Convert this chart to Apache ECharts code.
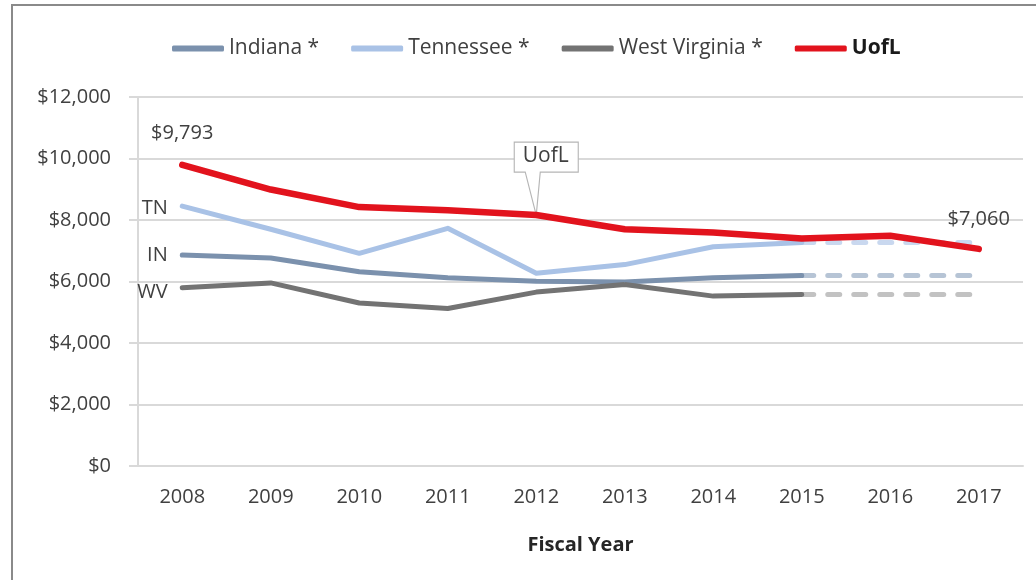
<!DOCTYPE html>
<html>
<head>
<meta charset="utf-8">
<script src="https://cdn.jsdelivr.net/npm/echarts@6/dist/echarts.min.js"></script>
<style>
  html, body { margin: 0; padding: 0; background: #fff; }
  #frame { position: absolute; left: 11px; top: 4px; width: 1040px; height: 590px;
           border-left: 2px solid #8a8a8a; border-top: 2px solid #8a8a8a; }
  #main { position: absolute; left: 0; top: 0; width: 1036px; height: 580px; }
</style>
</head>
<body>
<div id="frame"></div>
<div id="main"></div>
<script>
// 年份
const years = ["2008", "2009", "2010", "2011", "2012", "2013", "2014", "2015", "2016", "2017"];
// 各州数据 (2016/2017 无数据, 虚线为2015值延续)
const indiana = [6860, 6765, 6320, 6120, 6010, 5980, 6120, 6195, null, null];
const tennessee = [8450, 7700, 6915, 7730, 6270, 6550, 7130, 7270, null, null];
const westVirginia = [5795, 5955, 5300, 5120, 5655, 5905, 5525, 5580, null, null];
const uofl = [9793, 8990, 8420, 8315, 8160, 7700, 7590, 7400, 7485, 7060];
// 虚线部分
const indianaProj = [null, null, null, null, null, null, null, 6195, 6195, 6195];
const tennesseeProj = [null, null, null, null, null, null, null, 7270, 7270, 7270];
const westVirginiaProj = [null, null, null, null, null, null, null, 5580, 5580, 5580];
const yTicks = [0, 2000, 4000, 6000, 8000, 10000, 12000];

const FONT = "Open Sans";
const TXT = "#404040";

function money(v) {
  return "$" + v.toLocaleString("en-US");
}

// 第一个点的左侧标签 (TN / IN / WV)
function withStartLabel(arr, text, dy) {
  return arr.map((v, i) => {
    if (i !== 0) return v;
    return {
      value: v,
      label: { show: true, position: "left", distance: 14, offset: [0, dy], formatter: text,
               color: TXT, fontFamily: FONT, fontSize: 20 }
    };
  });
}

const uoflData = uofl.map((v, i) => {
  if (i === 0 || i === uofl.length - 1) {
    return {
      value: v,
      label: { show: true, position: "top", distance: i === 0 ? 21 : 19,
               formatter: money(v), color: TXT, fontFamily: FONT, fontSize: 20 }
    };
  }
  return v;
});

function dashed(name, data, color) {
  return {
    name: name, type: "line", data: data, symbol: "none", z: 1,
    lineStyle: { width: 5, color: color, type: [12, 14], cap: "round" },
    silent: true
  };
}

function solid(name, data, color, width) {
  return {
    name: name, type: "line", data: data, z: 2,
    symbol: "circle", symbolSize: 1, showSymbol: true,
    itemStyle: { color: color },
    lineStyle: { width: width, color: color, cap: "round", join: "round" }
  };
}

let mychart = echarts.init(document.getElementById("main"));

const uoflSeries = solid("UofL", uoflData, "#e2131d", 6.5);
uoflSeries.z = 5;
// 说明框 "UofL"
uoflSeries.markPoint = {
  silent: true,
  symbol: "path://M0 0 L64 0 L64 30 L26 30 L22 73 L11 30 L0 30 Z",
  symbolSize: [64, 73],
  symbolOffset: [10, -36.5],
  itemStyle: { color: "#fff", borderColor: "#b5b5b5", borderWidth: 1.2 },
  label: { show: true, position: [32, 15], align: "center", verticalAlign: "middle",
           formatter: "UofL", color: TXT, fontFamily: FONT, fontSize: 21 },
  data: [{ coord: [years[4], uofl[4]] }]
};

mychart.setOption({
  animation: false,
  textStyle: { fontFamily: FONT },
  legend: {
    left: 167,
    top: 33,
    icon: "roundRect",
    itemWidth: 52,
    itemHeight: 6,
    itemGap: 32,
    textStyle: { fontFamily: FONT, fontSize: 21, color: TXT },
    data: [
      "Indiana *",
      "Tennessee *",
      "West Virginia *",
      { name: "UofL", textStyle: { fontWeight: "bold", color: "#1a1a1a" } }
    ]
  },
  grid: { left: 138, right: 13, top: 97, bottom: 114 },
  xAxis: {
    type: "category",
    data: years,
    boundaryGap: true,
    name: "Fiscal Year",
    nameLocation: "middle",
    nameGap: 69,
    nameTextStyle: { fontFamily: FONT, fontSize: 20, fontWeight: "bold", color: "#262626" },
    axisLine: { lineStyle: { color: "#d9d9d9", width: 2 } },
    axisTick: { show: false },
    axisLabel: { margin: 21, fontFamily: FONT, fontSize: 20, color: TXT }
  },
  yAxis: {
    type: "value",
    min: yTicks[0],
    max: yTicks[yTicks.length - 1],
    interval: 2000,
    axisLine: { show: true, lineStyle: { color: "#d9d9d9", width: 2 } },
    axisTick: { show: true, length: 9, lineStyle: { color: "#d9d9d9", width: 2 } },
    splitLine: { lineStyle: { color: "#d9d9d9", width: 2 } },
    axisLabel: { margin: 27, fontFamily: FONT, fontSize: 20, color: TXT, formatter: money }
  },
  series: [
    dashed("Tennessee proj", tennesseeProj, "#c9d8ef"),
    dashed("Indiana proj", indianaProj, "#b6c4d5"),
    dashed("West Virginia proj", westVirginiaProj, "#c2c2c2"),
    solid("Indiana *", withStartLabel(indiana, "IN", 0), "#7b91ad", 5),
    solid("Tennessee *", withStartLabel(tennessee, "TN", 2), "#a9c2e6", 5),
    solid("West Virginia *", withStartLabel(westVirginia, "WV", 4), "#737373", 5),
    uoflSeries
  ]
});
</script>
</body>
</html>
